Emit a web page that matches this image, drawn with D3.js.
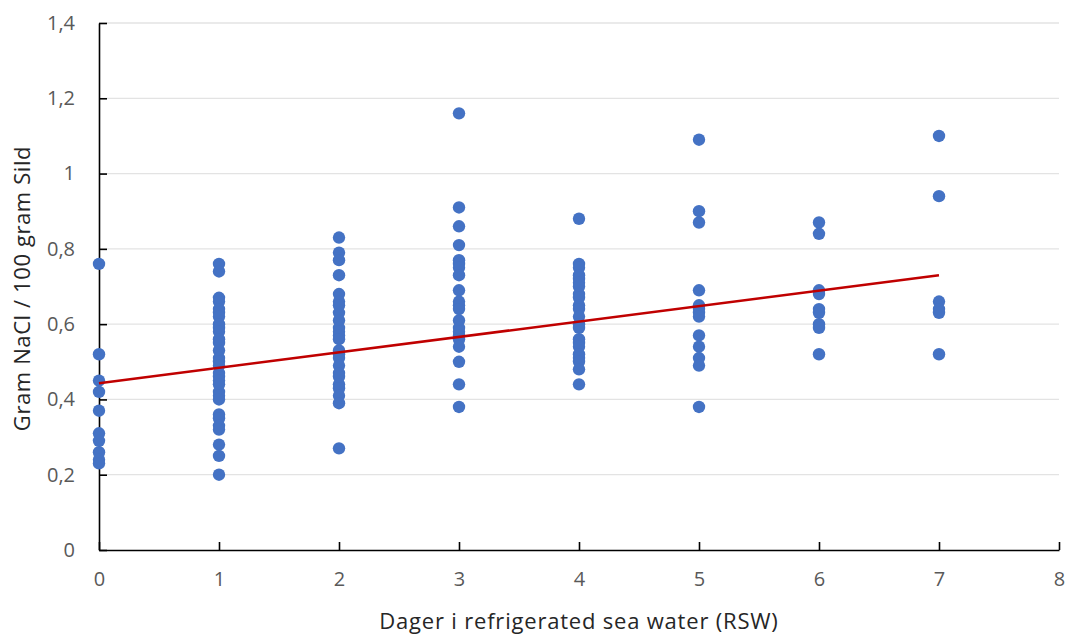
<!DOCTYPE html>
<html>
<head>
<meta charset="utf-8">
<script src="https://cdn.jsdelivr.net/npm/d3@7"></script>
<style>
	body { margin: 0; background: #fff; }
	svg { display: block; font-family: "Open Sans", "Noto Sans", sans-serif; }
</style>
</head>
<body>
<svg width="1067" height="636"></svg>
<script>
// days in RSW and measured salt content per day
var days = [0, 1, 2, 3, 4, 5, 6, 7];
var salt0 = [0.76, 0.52, 0.45, 0.42, 0.37, 0.31, 0.29, 0.26, 0.24, 0.23];
var salt1 = [0.76, 0.74, 0.67, 0.66, 0.64, 0.63, 0.62, 0.60, 0.59, 0.58, 0.56, 0.55, 0.53, 0.51, 0.50, 0.49, 0.47, 0.46, 0.45, 0.44, 0.42, 0.41, 0.40, 0.36, 0.35, 0.33, 0.32, 0.28, 0.25, 0.20];
var salt2 = [0.83, 0.79, 0.77, 0.73, 0.68, 0.66, 0.65, 0.63, 0.61, 0.59, 0.58, 0.57, 0.56, 0.53, 0.52, 0.51, 0.49, 0.47, 0.46, 0.44, 0.43, 0.41, 0.39, 0.27];
var salt3 = [1.16, 0.91, 0.86, 0.81, 0.77, 0.76, 0.75, 0.73, 0.69, 0.66, 0.65, 0.64, 0.61, 0.59, 0.58, 0.57, 0.56, 0.54, 0.50, 0.44, 0.38];
var salt4 = [0.88, 0.76, 0.75, 0.73, 0.72, 0.71, 0.70, 0.68, 0.67, 0.65, 0.64, 0.62, 0.60, 0.59, 0.56, 0.55, 0.54, 0.52, 0.51, 0.50, 0.48, 0.44];
var salt5 = [1.09, 0.90, 0.87, 0.69, 0.65, 0.64, 0.63, 0.62, 0.57, 0.54, 0.51, 0.49, 0.38];
var salt6 = [0.87, 0.84, 0.69, 0.68, 0.64, 0.63, 0.60, 0.59, 0.52];
var salt7 = [1.10, 0.94, 0.66, 0.64, 0.63, 0.52];

// linear trendline as shown in the chart
var trendDays = [0, 7];
var trendSalt = [0.443, 0.730];

var xTicks = [0, 1, 2, 3, 4, 5, 6, 7, 8];
var yTicks = [0, 0.2, 0.4, 0.6, 0.8, 1, 1.2, 1.4];
var yTickLabels = ["0", "0,2", "0,4", "0,6", "0,8", "1", "1,2", "1,4"];

var svg = d3.select("svg"),
	margin = { top: 23, right: 8, bottom: 86, left: 99 },
	width = +svg.attr("width") - margin.left - margin.right,
	height = +svg.attr("height") - margin.top - margin.bottom,
	g = svg.append("g").attr("transform", "translate(" + margin.left + "," + margin.top + ")");

var x = d3.scaleLinear().domain([0, 8]).range([0, width]);
var y = d3.scaleLinear().domain([0, 1.4]).range([height, 0]);

var saltByDay = [salt0, salt1, salt2, salt3, salt4, salt5, salt6, salt7];
var points = [];
days.forEach(function (d, i) {
	saltByDay[i].forEach(function (v) { points.push({ day: d, salt: v }); });
});

// gridlines
g.append("g")
	.selectAll("line")
	.data(yTicks.slice(1))
	.enter().append("line")
	.attr("x1", 0)
	.attr("x2", width)
	.attr("y1", function (d) { return y(d); })
	.attr("y2", function (d) { return y(d); })
	.attr("stroke", "#e3e3e3")
	.attr("stroke-width", 1.3);

// axes
var yAxis = g.append("g")
	.call(d3.axisLeft(y).tickValues(yTicks).tickSizeInner(-8).tickSizeOuter(0)
		.tickPadding(24)
		.tickFormat(function (d, i) { return yTickLabels[i]; }));
var xAxis = g.append("g")
	.attr("transform", "translate(0," + height + ")")
	.call(d3.axisBottom(x).tickValues(xTicks).tickSizeInner(-8).tickSizeOuter(0)
		.tickPadding(22)
		.tickFormat(d3.format("d")));

[yAxis, xAxis].forEach(function (a) {
	a.select(".domain").attr("stroke", "#000").attr("stroke-width", 1.6);
	a.selectAll(".tick line").attr("stroke", "#000").attr("stroke-width", 1.6);
	a.selectAll(".tick text")
		.attr("fill", "#595959")
		.attr("font-size", 20)
		.attr("font-family", "'Open Sans', sans-serif");
});

// points
g.append("g")
	.selectAll("circle")
	.data(points)
	.enter().append("circle")
	.attr("cx", function (d) { return x(d.day); })
	.attr("cy", function (d) { return y(d.salt); })
	.attr("r", 6.2)
	.attr("fill", "#4472C4");

// trendline
g.append("line")
	.attr("x1", x(trendDays[0]))
	.attr("y1", y(trendSalt[0]))
	.attr("x2", x(trendDays[1]))
	.attr("y2", y(trendSalt[1]))
	.attr("stroke", "#C00000")
	.attr("stroke-width", 2.5);

// axis titles
svg.append("text")
	.attr("x", margin.left + x(4))
	.attr("y", 629)
	.attr("text-anchor", "middle")
	.attr("font-size", 22)
	.attr("letter-spacing", 0.8)
	.attr("fill", "#262626")
	.text("Dager i refrigerated sea water (RSW)");

svg.append("text")
	.attr("transform", "translate(30," + (margin.top + height / 2 + 2) + ") rotate(-90)")
	.attr("text-anchor", "middle")
	.attr("font-size", 22)
	.attr("letter-spacing", 0.6)
	.attr("fill", "#262626")
	.text("Gram NaCl / 100 gram Sild");
</script>
</body>
</html>
